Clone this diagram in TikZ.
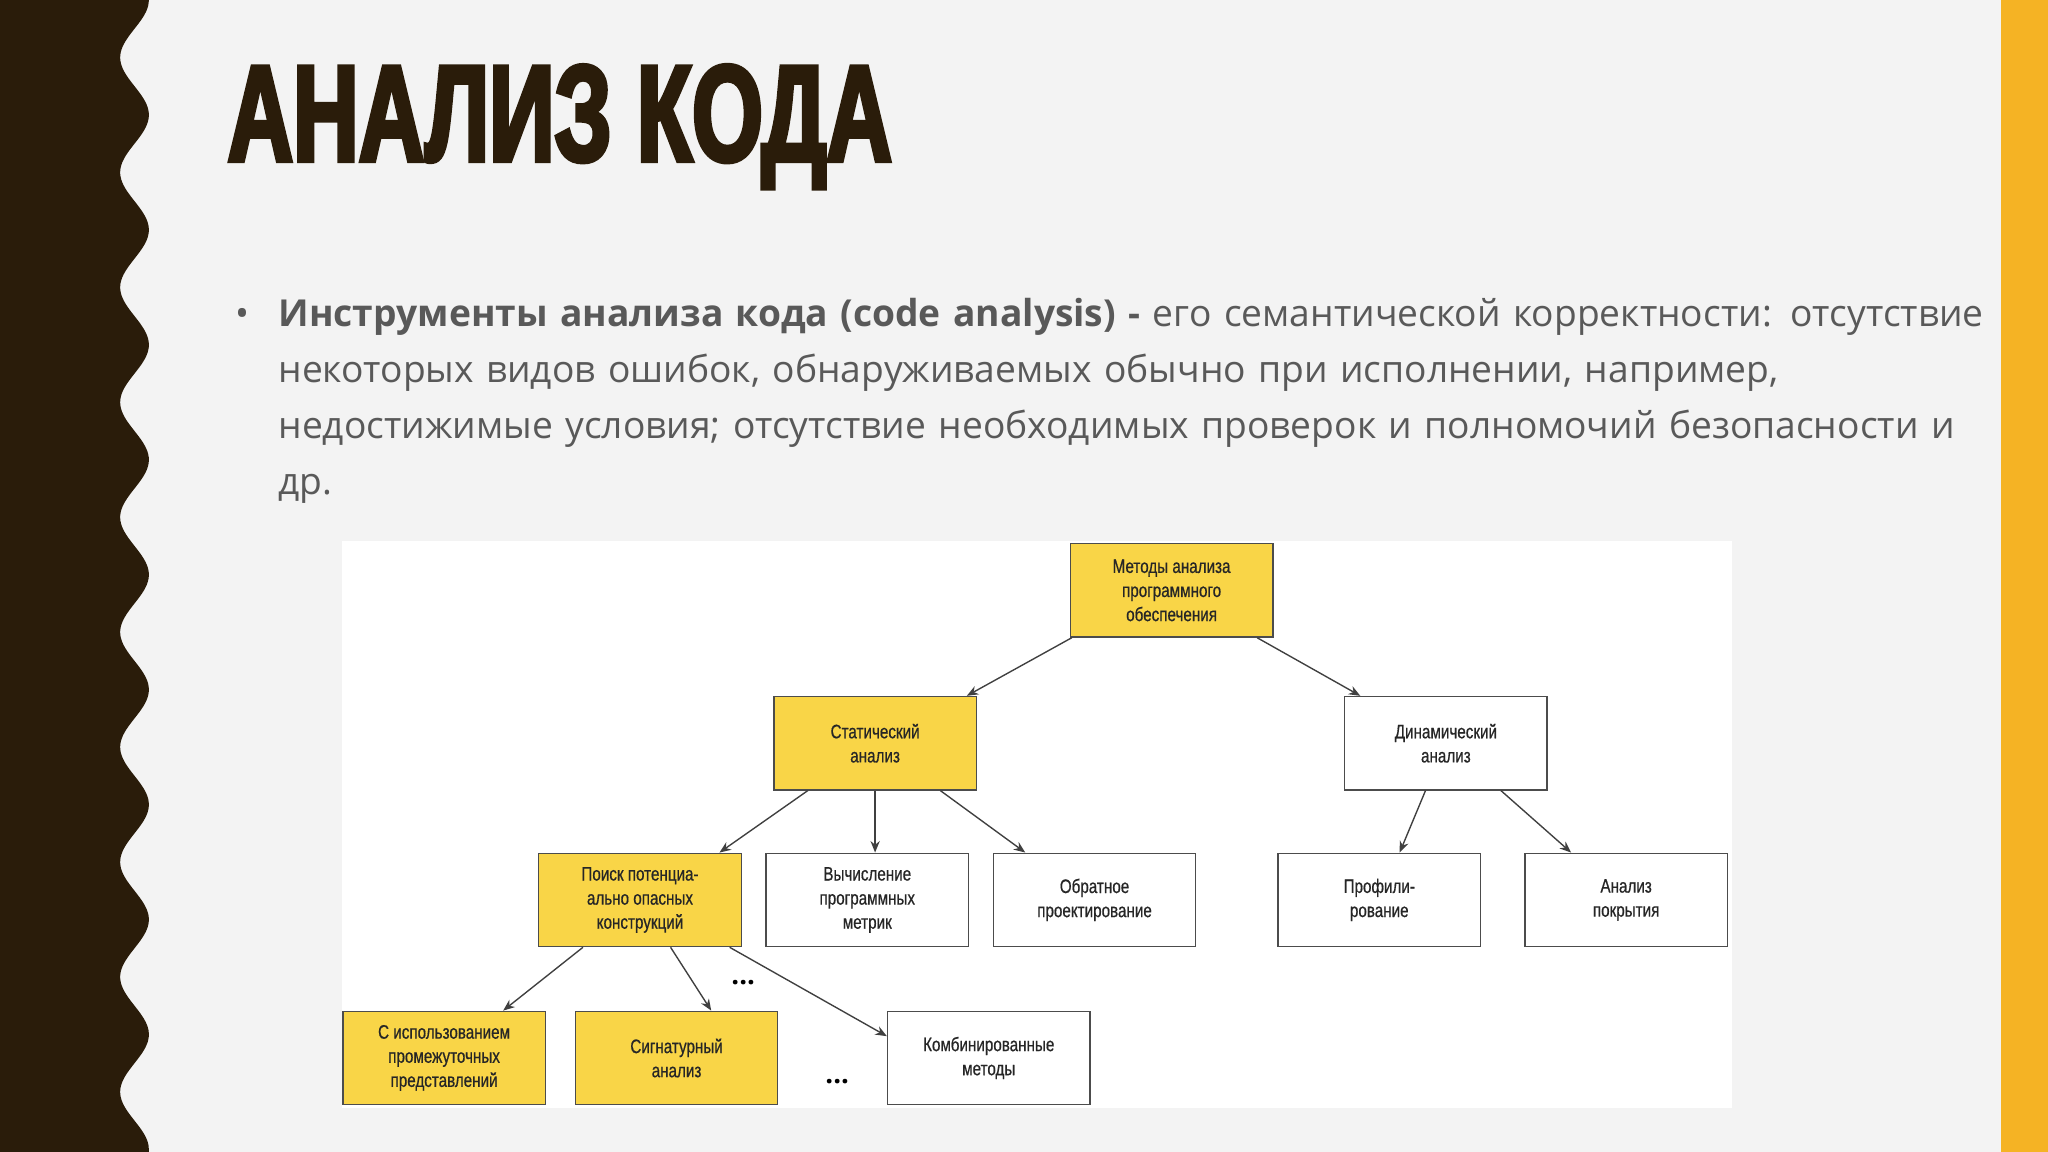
\documentclass[tikz,border=0pt]{standalone}
\usepackage{fontspec}
\setmainfont{Open Sans}
\newfontfamily\titlefont[FakeStretch=0.66,FakeBold=3]{Liberation Sans Bold}
\newfontfamily\diafont[FakeStretch=0.78,FakeBold=0.6]{Liberation Sans}
\usetikzlibrary{calc,arrows.meta}
\definecolor{bgc}{HTML}{F3F3F3}
\definecolor{darkb}{HTML}{2A1C0A}
\definecolor{stripe}{HTML}{F5B324}
\definecolor{boxy}{HTML}{F9D547}
\definecolor{txt}{HTML}{595959}
\tikzset{
 bx/.style={draw=black!70,line width=0.6pt,minimum width=3.1cm,minimum height=1.43cm,inner sep=1pt,align=center,font=\diafont\fontsize{8.5}{10.5}\selectfont,text=black!85},
 yb/.style={bx,fill=boxy},
 wb/.style={bx,fill=white},
 ar/.style={-{Stealth[length=5pt,width=4pt]},draw=black!75,line width=0.6pt}
}
\begin{document}
\begin{tikzpicture}[x=0.02cm,y=-0.02cm]
\useasboundingbox (0,0) rectangle (1568,882);
\fill[bgc] (0,0) rectangle (1568,882);
\fill[stripe] (1532,0) rectangle (1568,882);
\fill[darkb] (0,0) -- plot[domain=0:882,samples=200,smooth] ({103+11*cos(\x/88*360)},\x) -- (0,882) -- cycle;
\node[anchor=west,font=\titlefont\fontsize{60}{60}\selectfont,text=darkb] (title) at (168,97) {АНАЛИЗ КОДА};
\node[anchor=north west,text width=26.5cm,align=left,font=\fontsize{16.2}{24.5}\selectfont,text=txt] (body) at (207,222)
 {\makebox[0pt][r]{\textbullet\hspace{0.45cm}}\textbf{Инструменты анализа кода (code analysis) -} его семантической корректности: отсутствие некоторых видов ошибок, обнаруживаемых обычно при исполнении, например, недостижимые условия; отсутствие необходимых проверок и полномочий безопасности и др.};
\fill[white] (262,414) rectangle (1326,848);
\node[yb] (top) at (897,452) {Методы анализа\\программного\\обеспечения};
\node[yb] (stat) at (670,569) {Статический\\анализ};
\node[wb] (dyn) at (1107,569) {Динамический\\анализ};
\node[yb] (poisk) at (490,689) {Поиск потенциа-\\ально опасных\\конструкций};
\node[wb] (vych) at (664,689) {Вычисление\\программных\\метрик};
\node[wb] (obr) at (838,689) {Обратное\\проектирование};
\node[wb] (prof) at (1056,689) {Профили-\\рование};
\node[wb] (cov) at (1245,689) {Анализ\\покрытия};
\node[yb] (sisp) at (340,810) {С использованием\\промежуточных\\представлений};
\node[yb] (sign) at (518,810) {Сигнатурный\\анализ};
\node[wb] (komb) at (757,810) {Комбинированные\\методы};
\node[font=\bfseries\large] (d1) at (569,752) {...};
\node[font=\bfseries\large] (d2) at (641,828) {...};
\draw[ar] ($(top.south west)!0.01!(top.south east)$) -- ($(stat.north west)!0.95!(stat.north east)$);
\draw[ar] ($(top.south west)!0.92!(top.south east)$) -- ($(dyn.north west)!0.08!(dyn.north east)$);
\draw[ar] ($(stat.south west)!0.17!(stat.south east)$) -- ($(poisk.north west)!0.89!(poisk.north east)$);
\draw[ar] (stat.south) -- (vych.north -| stat.south);
\draw[ar] ($(stat.south west)!0.82!(stat.south east)$) -- ($(obr.north west)!0.16!(obr.north east)$);
\draw[ar] ($(dyn.south west)!0.4!(dyn.south east)$) -- ($(prof.north west)!0.6!(prof.north east)$);
\draw[ar] ($(dyn.south west)!0.77!(dyn.south east)$) -- ($(cov.north west)!0.23!(cov.north east)$);
\draw[ar] ($(poisk.south west)!0.22!(poisk.south east)$) -- ($(sisp.north west)!0.79!(sisp.north east)$);
\draw[ar] ($(poisk.south west)!0.65!(poisk.south east)$) -- ($(sign.north west)!0.67!(sign.north east)$);
\draw[ar] ($(poisk.south west)!0.94!(poisk.south east)$) -- ($(komb.north west)!0.27!(komb.south west)$);
\end{tikzpicture}
\end{document}
